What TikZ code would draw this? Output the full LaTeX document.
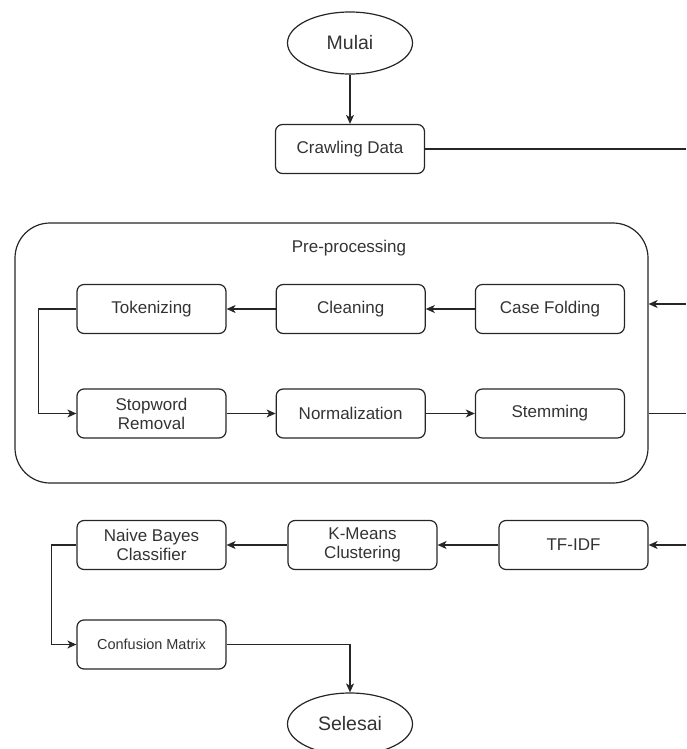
\documentclass[tikz,border=0pt]{standalone}
\usepackage{fontspec}
\setmainfont{Liberation Sans}
\usepackage{tikz}
\usetikzlibrary{shapes}
\usetikzlibrary{arrows.meta}
\usetikzlibrary{positioning}

\tikzset{
  flowline/.style={line width=1.2pt, draw=black!85},
  arr/.style={flowline, -{Stealth[length=9pt,width=8pt,inset=2.5pt]}},
  procbox/.style={draw=black!85, line width=1.2pt, rounded corners=7pt,
    minimum width=149pt, minimum height=49pt, inner sep=0pt, align=center,
    text=black!80, font=\fontsize{17}{19}\selectfont},
  smallbox/.style={procbox, font=\fontsize{14.5}{17}\selectfont},
  terminal/.style={draw=black!85, line width=1.2pt, ellipse,
    minimum width=125pt, minimum height=62pt, inner sep=0pt,
    text=black!80, font=\fontsize{19.5}{22}\selectfont},
  groupbox/.style={draw=black!85, line width=1.2pt, rounded corners=35pt,
    minimum width=633pt, minimum height=260pt, inner sep=0pt}
}

\begin{document}
\begin{tikzpicture}[x=1pt,y=-1pt]
  \useasboundingbox (0,0) rectangle (686,749);

  % start
  \node[terminal] (mulai) at (350,43) {Mulai};
  \node[procbox] (crawl) at (350,149) {Crawling Data};

  % pre-processing group
  \node[groupbox] (pre) at (331.5,353) {};
  \node[text=black!80, font=\fontsize{17}{19}\selectfont] (prelabel) at (349,248) {Pre-processing};

  \node[procbox] (tok) at (151.5,309) {Tokenizing};
  \node[procbox, right=49pt of tok] (clean) {Cleaning};
  \node[procbox, right=49pt of clean] (fold) {Case Folding};

  \node[procbox] (stop) at (151.5,413.5) {Stopword\\Removal};
  \node[procbox, right=49pt of stop] (norm) {Normalization};
  \node[procbox, right=49pt of norm] (stem) {Stemming};

  % classification
  \node[procbox] (nb) at (151.5,545) {Naive Bayes\\Classifier};
  \node[procbox] (kmeans) at (362.5,545) {K-Means\\Clustering};
  \node[procbox] (tfidf) at (573.5,545) {TF-IDF};
  \node[smallbox] (cm) at (151.5,644.5) {Confusion Matrix};

  \node[terminal] (selesai) at (350,724) {Selesai};

  % right edge (line runs off the page)
  \coordinate (crawlout) at (686,149);
  \coordinate (prein) at (686,304);
  \coordinate (preout) at (686,413.5);
  \coordinate (tfin) at (686,545);

  \draw[arr] (mulai) -- (crawl);
  \draw[flowline] (crawl.east) -- (crawlout);
  \draw[arr] (prein) -- (prein -| pre.east);

  \draw[arr] (fold) -- (clean);
  \draw[arr] (clean) -- (tok);
  \draw[arr] (tok.west) -- ++(-38,0) |- (stop.west);
  \draw[arr] (stop) -- (norm);
  \draw[arr] (norm) -- (stem);
  \draw[flowline] (pre.east |- stem) -- (preout);

  \draw[arr] (tfin) -- (tfidf.east);
  \draw[arr] (tfidf) -- (kmeans);
  \draw[arr] (kmeans) -- (nb);
  \draw[arr] (nb.west) -- ++(-25,0) |- (cm.west);
  \draw[arr] (cm.east) -| (selesai.north);
\end{tikzpicture}
\end{document}
